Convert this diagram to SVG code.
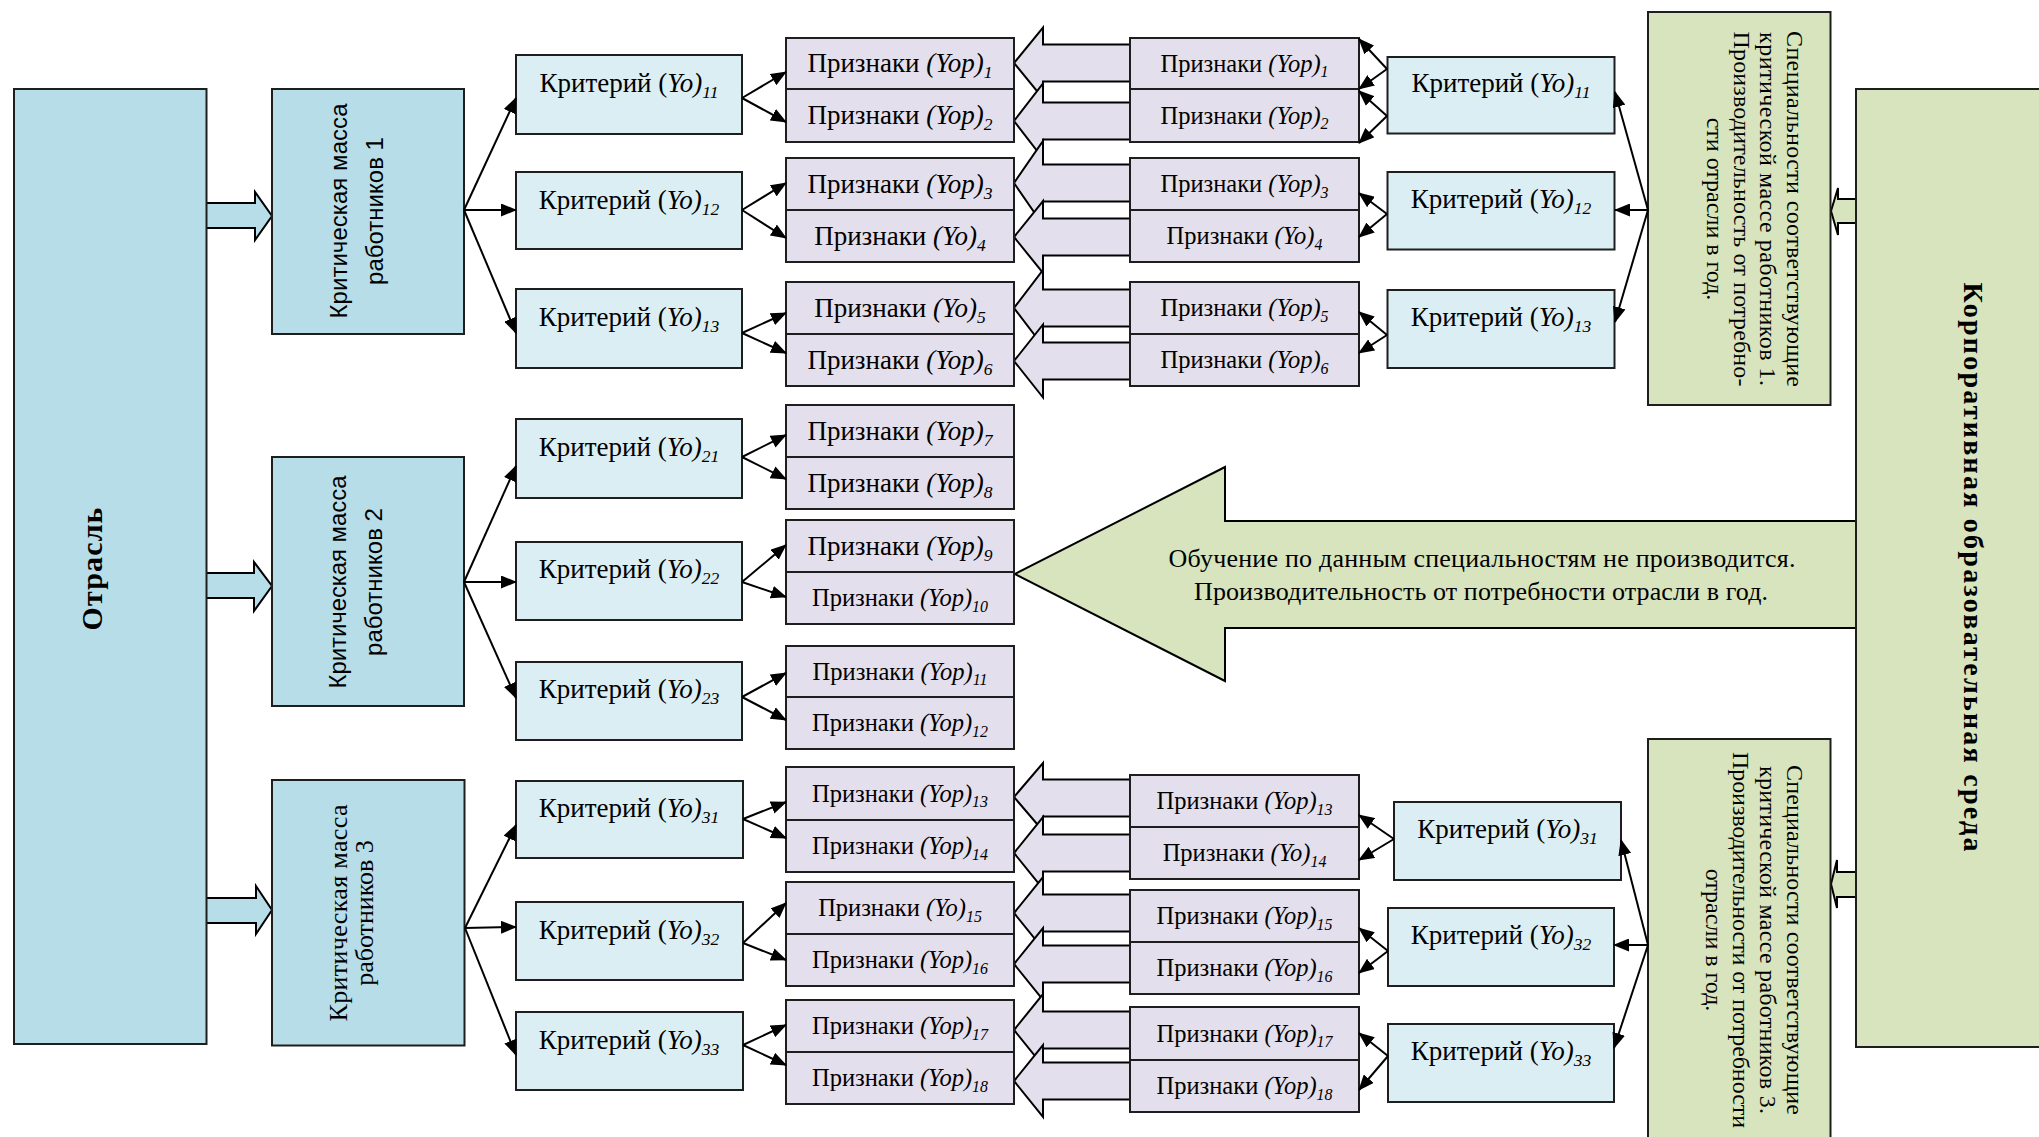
<svg xmlns="http://www.w3.org/2000/svg" width="2039" height="1137" viewBox="0 0 2039 1137">
<style>
.box{stroke:#1e1e1e;stroke-width:2}
.blue{fill:#b7dde8}
.crit{fill:#dbeef3}
.pr{fill:#e4dfec}
.green{fill:#d7e4bd}
.t{font-family:"Liberation Serif","Times New Roman",serif;fill:#000;text-anchor:middle}
.sans{font-family:"Liberation Sans",Arial,sans-serif;fill:#000;text-anchor:middle}
.s26{font-size:27px}
.s24{font-size:24.5px}
.b{font-weight:bold}
.i{font-style:italic}
.sub{font-size:0.65em}
.blk{stroke:#000;stroke-width:2}
.ln{stroke:#000;stroke-width:2;fill:none;marker-end:url(#ah)}
</style>
<defs>
<marker id="ah" markerUnits="userSpaceOnUse" markerWidth="16" markerHeight="13" refX="15" refY="6.5" orient="auto">
<path d="M0,0 L16,6.5 L0,13 Z" fill="#000"/>
</marker>
</defs>

<g id="connectors-block">
<path class="blk blue" d="M206,203 H255 V192 L272,216 L255,240 V228 H206"/>
<path class="blk blue" d="M206,573 H254 V562 L272,586 L254,611 V598 H206"/>
<path class="blk blue" d="M206,898 H256 V886 L272,910 L256,934 V923 H206"/>
<path class="blk green" d="M1856,199 H1838 V188 L1831,211 L1838,235 V223 H1856"/>
<path class="blk green" d="M1856,872 H1837 V860 L1831,884 L1837,908 V897 H1856"/>
<path class="blk green" d="M1857,521 H1225 V467 L1015,574 L1225,681 V628 H1857"/>
<path class="blk pr" d="M1130,44.5 H1043 V27.5 L1014,63 L1043,98.5 V81.5 H1130"/>
<path class="blk pr" d="M1130,102.5 H1043 V83.5 L1014,121 L1043,158.5 V139.5 H1130"/>
<path class="blk pr" d="M1130,164.5 H1043 V141 L1014,183 L1043,225 V201.5 H1130"/>
<path class="blk pr" d="M1130,218.5 H1043 V201 L1014,237 L1043,273 V255.5 H1130"/>
<path class="blk pr" d="M1130,289.5 H1043 V270 L1014,308 L1043,346 V326.5 H1130"/>
<path class="blk pr" d="M1130,342.5 H1043 V324.5 L1014,361 L1043,397.5 V379.5 H1130"/>
<path class="blk pr" d="M1130,779.5 H1043 V763 L1014,797 L1043,831 V816.5 H1130"/>
<path class="blk pr" d="M1130,834.5 H1043 V817 L1014,853 L1043,889 V871.5 H1130"/>
<path class="blk pr" d="M1130,894.5 H1043 V877 L1014,913 L1043,949 V931.5 H1130"/>
<path class="blk pr" d="M1130,945.5 H1043 V928 L1014,964 L1043,1000 V982.5 H1130"/>
<path class="blk pr" d="M1130,1011.5 H1043 V994 L1014,1030 L1043,1066 V1048.5 H1130"/>
<path class="blk pr" d="M1130,1062.5 H1043 V1045 L1014,1081 L1043,1117 V1099.5 H1130"/>
</g>

<g id="nodes">
<g id="otrasl"><rect class="box blue" x="14" y="89" width="192.5" height="955"/>
<text class="t b" font-size="30" transform="translate(102,569) rotate(-90)" textLength="123" lengthAdjust="spacing">Отрасль</text></g>

<g id="korp"><rect class="box green" x="1856" y="89" width="224" height="958"/>
<text class="t b" font-size="28" transform="translate(1964,567) rotate(90)" textLength="569" lengthAdjust="spacing">Корпоративная образовательная среда</text></g>

<g id="km1"><rect class="box blue" x="272" y="89" width="192" height="245"/>
<text class="sans" font-size="24" transform="translate(347,211) rotate(-90)"><tspan x="0" y="0" textLength="215" lengthAdjust="spacing">Критическая масса</tspan><tspan x="0" y="35.5">работников 1</tspan></text></g>
<g id="km2"><rect class="box blue" x="272" y="457" width="192" height="249"/>
<text class="sans" font-size="24" transform="translate(346,582) rotate(-90)"><tspan x="0" y="0" textLength="213" lengthAdjust="spacing">Критическая масса</tspan><tspan x="0" y="35.5">работников 2</tspan></text></g>
<g id="km3"><rect class="box blue" x="272" y="780" width="192.5" height="265.5"/>
<text class="t" font-size="26" transform="translate(347,913) rotate(-90)"><tspan x="0" y="0" textLength="217" lengthAdjust="spacing">Критическая масса</tspan><tspan x="0" y="26">работников 3</tspan></text></g>

<g id="spec1"><rect class="box green" x="1648" y="12" width="182.5" height="393"/>
<text class="t" font-size="24" transform="translate(1787,209) rotate(90)"><tspan x="0" y="0" textLength="356" lengthAdjust="spacing">Специальности соответствующие</tspan><tspan x="0" y="26.7" textLength="354" lengthAdjust="spacing">критической массе работников 1.</tspan><tspan x="0" y="53.3" textLength="355" lengthAdjust="spacing">Производительность от потребно-</tspan><tspan x="0" y="80">сти отрасли в год.</tspan></text></g>
<g id="spec3"><rect class="box green" x="1648" y="739" width="182.5" height="405"/>
<text class="t" font-size="24" transform="translate(1787,940) rotate(90)"><tspan x="0" y="0" textLength="350" lengthAdjust="spacing">Специальности соответствующие</tspan><tspan x="0" y="27" textLength="348" lengthAdjust="spacing">критической массе работников 3.</tspan><tspan x="0" y="54" textLength="376" lengthAdjust="spacing">Производительности от потребности</tspan><tspan x="0" y="81">отрасли в год.</tspan></text></g>

<g id="arrow-text"><text class="t" font-size="26"><tspan x="1482" y="566.5" textLength="627" lengthAdjust="spacing">Обучение по данным специальностям не производится.</tspan><tspan x="1481" y="600" textLength="574" lengthAdjust="spacing">Производительность от потребности отрасли в год.</tspan></text></g>

<g id="k11"><rect class="box crit" x="516" y="55" width="226" height="79"/><text class="t s26" x="629" y="91.5">Критерий (<tspan class="i">Yo)<tspan class="sub" dy="6">11</tspan></tspan></text></g>
<g id="k12"><rect class="box crit" x="516" y="172" width="226" height="77"/><text class="t s26" x="629" y="208.5">Критерий (<tspan class="i">Yo)<tspan class="sub" dy="6">12</tspan></tspan></text></g>
<g id="k13"><rect class="box crit" x="516" y="289" width="226" height="79"/><text class="t s26" x="629" y="325.5">Критерий (<tspan class="i">Yo)<tspan class="sub" dy="6">13</tspan></tspan></text></g>
<g id="k21"><rect class="box crit" x="516" y="419" width="226" height="79"/><text class="t s26" x="629" y="455.5">Критерий (<tspan class="i">Yo)<tspan class="sub" dy="6">21</tspan></tspan></text></g>
<g id="k22"><rect class="box crit" x="516" y="542" width="226" height="78"/><text class="t s26" x="629" y="578">Критерий (<tspan class="i">Yo)<tspan class="sub" dy="6">22</tspan></tspan></text></g>
<g id="k23"><rect class="box crit" x="516" y="662" width="226" height="78"/><text class="t s26" x="629" y="698">Критерий (<tspan class="i">Yo)<tspan class="sub" dy="6">23</tspan></tspan></text></g>
<g id="k31"><rect class="box crit" x="516" y="781" width="227" height="77"/><text class="t s26" x="629" y="817">Критерий (<tspan class="i">Yo)<tspan class="sub" dy="6">31</tspan></tspan></text></g>
<g id="k32"><rect class="box crit" x="516" y="902" width="227" height="78"/><text class="t s26" x="629" y="939">Критерий (<tspan class="i">Yo)<tspan class="sub" dy="6">32</tspan></tspan></text></g>
<g id="k33"><rect class="box crit" x="516" y="1012" width="227" height="78"/><text class="t s26" x="629" y="1049">Критерий (<tspan class="i">Yo)<tspan class="sub" dy="6">33</tspan></tspan></text></g>

<g id="rk11"><rect class="box crit" x="1387.5" y="57" width="227" height="76.5"/><text class="t s26" x="1501" y="92">Критерий (<tspan class="i">Yo)<tspan class="sub" dy="6">11</tspan></tspan></text></g>
<g id="rk12"><rect class="box crit" x="1387.5" y="172" width="227" height="77.5"/><text class="t s26" x="1501" y="208">Критерий (<tspan class="i">Yo)<tspan class="sub" dy="6">12</tspan></tspan></text></g>
<g id="rk13"><rect class="box crit" x="1387.5" y="290" width="227" height="78"/><text class="t s26" x="1501" y="326">Критерий (<tspan class="i">Yo)<tspan class="sub" dy="6">13</tspan></tspan></text></g>
<g id="rk31"><rect class="box crit" x="1394" y="802" width="227" height="78"/><text class="t s26" x="1507.5" y="838">Критерий (<tspan class="i">Yo)<tspan class="sub" dy="6">31</tspan></tspan></text></g>
<g id="rk32"><rect class="box crit" x="1388" y="908" width="226" height="78"/><text class="t s26" x="1501" y="944">Критерий (<tspan class="i">Yo)<tspan class="sub" dy="6">32</tspan></tspan></text></g>
<g id="rk33"><rect class="box crit" x="1388" y="1024" width="226" height="78"/><text class="t s26" x="1501" y="1060">Критерий (<tspan class="i">Yo)<tspan class="sub" dy="6">33</tspan></tspan></text></g>

<g id="p1"><rect class="box pr" x="786" y="38" width="228" height="51"/><text class="t s26" x="900" y="72">Признаки <tspan class="i">(Yop)<tspan class="sub" dy="6">1</tspan></tspan></text></g>
<g id="p2"><rect class="box pr" x="786" y="89" width="228" height="53"/><text class="t s26" x="900" y="124">Признаки <tspan class="i">(Yop)<tspan class="sub" dy="6">2</tspan></tspan></text></g>
<g id="p3"><rect class="box pr" x="786" y="158" width="228" height="52"/><text class="t s26" x="900" y="192.5">Признаки <tspan class="i">(Yop)<tspan class="sub" dy="6">3</tspan></tspan></text></g>
<g id="p4"><rect class="box pr" x="786" y="210" width="228" height="52"/><text class="t s26" x="900" y="244.5">Признаки <tspan class="i">(Yo)<tspan class="sub" dy="6">4</tspan></tspan></text></g>
<g id="p5"><rect class="box pr" x="786" y="282" width="228" height="52"/><text class="t s26" x="900" y="316.5">Признаки <tspan class="i">(Yo)<tspan class="sub" dy="6">5</tspan></tspan></text></g>
<g id="p6"><rect class="box pr" x="786" y="334" width="228" height="52"/><text class="t s26" x="900" y="368.5">Признаки <tspan class="i">(Yop)<tspan class="sub" dy="6">6</tspan></tspan></text></g>
<g id="p7"><rect class="box pr" x="786" y="405" width="228" height="52"/><text class="t s26" x="900" y="439.5">Признаки <tspan class="i">(Yop)<tspan class="sub" dy="6">7</tspan></tspan></text></g>
<g id="p8"><rect class="box pr" x="786" y="457" width="228" height="52"/><text class="t s26" x="900" y="491.5">Признаки <tspan class="i">(Yop)<tspan class="sub" dy="6">8</tspan></tspan></text></g>
<g id="p9"><rect class="box pr" x="786" y="520" width="228" height="52"/><text class="t s26" x="900" y="554.5">Признаки <tspan class="i">(Yop)<tspan class="sub" dy="6">9</tspan></tspan></text></g>
<g id="p10"><rect class="box pr" x="786" y="572" width="228" height="52"/><text class="t s24" x="900" y="606">Признаки <tspan class="i">(Yop)<tspan class="sub" dy="5.5">10</tspan></tspan></text></g>
<g id="p11"><rect class="box pr" x="786" y="646" width="228" height="51"/><text class="t s24" x="900" y="679.5">Признаки <tspan class="i">(Yop)<tspan class="sub" dy="5.5">11</tspan></tspan></text></g>
<g id="p12"><rect class="box pr" x="786" y="697" width="228" height="52"/><text class="t s24" x="900" y="731">Признаки <tspan class="i">(Yop)<tspan class="sub" dy="5.5">12</tspan></tspan></text></g>
<g id="p13"><rect class="box pr" x="786" y="767" width="228" height="53"/><text class="t s24" x="900" y="801.5">Признаки <tspan class="i">(Yop)<tspan class="sub" dy="5.5">13</tspan></tspan></text></g>
<g id="p14"><rect class="box pr" x="786" y="820" width="228" height="52"/><text class="t s24" x="900" y="854">Признаки <tspan class="i">(Yop)<tspan class="sub" dy="5.5">14</tspan></tspan></text></g>
<g id="p15"><rect class="box pr" x="786" y="882" width="228" height="52"/><text class="t s24" x="900" y="916">Признаки <tspan class="i">(Yo)<tspan class="sub" dy="5.5">15</tspan></tspan></text></g>
<g id="p16"><rect class="box pr" x="786" y="934" width="228" height="52"/><text class="t s24" x="900" y="968">Признаки <tspan class="i">(Yop)<tspan class="sub" dy="5.5">16</tspan></tspan></text></g>
<g id="p17"><rect class="box pr" x="786" y="1000" width="228" height="52"/><text class="t s24" x="900" y="1034">Признаки <tspan class="i">(Yop)<tspan class="sub" dy="5.5">17</tspan></tspan></text></g>
<g id="p18"><rect class="box pr" x="786" y="1052" width="228" height="52"/><text class="t s24" x="900" y="1086">Признаки <tspan class="i">(Yop)<tspan class="sub" dy="5.5">18</tspan></tspan></text></g>

<g id="rp1"><rect class="box pr" x="1130" y="38" width="229" height="51"/><text class="t s24" x="1244.5" y="71.5">Признаки <tspan class="i">(Yop)<tspan class="sub" dy="5.5">1</tspan></tspan></text></g>
<g id="rp2"><rect class="box pr" x="1130" y="89" width="229" height="53"/><text class="t s24" x="1244.5" y="123.5">Признаки <tspan class="i">(Yop)<tspan class="sub" dy="5.5">2</tspan></tspan></text></g>
<g id="rp3"><rect class="box pr" x="1130" y="158" width="229" height="52"/><text class="t s24" x="1244.5" y="192">Признаки <tspan class="i">(Yop)<tspan class="sub" dy="5.5">3</tspan></tspan></text></g>
<g id="rp4"><rect class="box pr" x="1130" y="210" width="229" height="52"/><text class="t s24" x="1244.5" y="244">Признаки <tspan class="i">(Yo)<tspan class="sub" dy="5.5">4</tspan></tspan></text></g>
<g id="rp5"><rect class="box pr" x="1130" y="282" width="229" height="52"/><text class="t s24" x="1244.5" y="316">Признаки <tspan class="i">(Yop)<tspan class="sub" dy="5.5">5</tspan></tspan></text></g>
<g id="rp6"><rect class="box pr" x="1130" y="334" width="229" height="52"/><text class="t s24" x="1244.5" y="368">Признаки <tspan class="i">(Yop)<tspan class="sub" dy="5.5">6</tspan></tspan></text></g>
<g id="rp13"><rect class="box pr" x="1130" y="775" width="229" height="52"/><text class="t s24" x="1244.5" y="809">Признаки <tspan class="i">(Yop)<tspan class="sub" dy="5.5">13</tspan></tspan></text></g>
<g id="rp14"><rect class="box pr" x="1130" y="827" width="229" height="52"/><text class="t s24" x="1244.5" y="861">Признаки <tspan class="i">(Yo)<tspan class="sub" dy="5.5">14</tspan></tspan></text></g>
<g id="rp15"><rect class="box pr" x="1130" y="890" width="229" height="52"/><text class="t s24" x="1244.5" y="924">Признаки <tspan class="i">(Yop)<tspan class="sub" dy="5.5">15</tspan></tspan></text></g>
<g id="rp16"><rect class="box pr" x="1130" y="942" width="229" height="52"/><text class="t s24" x="1244.5" y="976">Признаки <tspan class="i">(Yop)<tspan class="sub" dy="5.5">16</tspan></tspan></text></g>
<g id="rp17"><rect class="box pr" x="1130" y="1007" width="229" height="53"/><text class="t s24" x="1244.5" y="1041.5">Признаки <tspan class="i">(Yop)<tspan class="sub" dy="5.5">17</tspan></tspan></text></g>
<g id="rp18"><rect class="box pr" x="1130" y="1060" width="229" height="52"/><text class="t s24" x="1244.5" y="1094">Признаки <tspan class="i">(Yop)<tspan class="sub" dy="5.5">18</tspan></tspan></text></g>
</g>

<g id="connectors">
<path class="ln" d="M464,210 L516,98"/>
<path class="ln" d="M464,210 L516,210"/>
<path class="ln" d="M464,210 L516,333"/>
<path class="ln" d="M464,582 L516,466"/>
<path class="ln" d="M464,582 L516,582"/>
<path class="ln" d="M464,582 L516,698"/>
<path class="ln" d="M465,928 L516,825"/>
<path class="ln" d="M465,928 L516,927"/>
<path class="ln" d="M465,928 L516,1055"/>
<path class="ln" d="M742,98 L786,72"/>
<path class="ln" d="M742,98 L786,122"/>
<path class="ln" d="M742,210 L786,183"/>
<path class="ln" d="M742,210 L786,238"/>
<path class="ln" d="M742,333 L786,313"/>
<path class="ln" d="M742,333 L786,353"/>
<path class="ln" d="M742,457 L786,435"/>
<path class="ln" d="M742,457 L786,479"/>
<path class="ln" d="M742,582 L786,545"/>
<path class="ln" d="M742,582 L786,597"/>
<path class="ln" d="M742,697 L786,673"/>
<path class="ln" d="M742,697 L786,720"/>
<path class="ln" d="M743,819 L786,802"/>
<path class="ln" d="M743,819 L786,838"/>
<path class="ln" d="M743,943 L786,903"/>
<path class="ln" d="M743,943 L786,960"/>
<path class="ln" d="M743,1045 L786,1025"/>
<path class="ln" d="M743,1045 L786,1065"/>
<path class="ln" d="M1387,69 L1359,39"/>
<path class="ln" d="M1387,69 L1359,89"/>
<path class="ln" d="M1387,116 L1359,91"/>
<path class="ln" d="M1387,116 L1359,143"/>
<path class="ln" d="M1387,214 L1359,193"/>
<path class="ln" d="M1387,214 L1359,237"/>
<path class="ln" d="M1387,335 L1359,312"/>
<path class="ln" d="M1387,335 L1359,353"/>
<path class="ln" d="M1394,839 L1359,815"/>
<path class="ln" d="M1394,839 L1359,860"/>
<path class="ln" d="M1388,951 L1359,928"/>
<path class="ln" d="M1388,951 L1359,973"/>
<path class="ln" d="M1388,1056 L1359,1033"/>
<path class="ln" d="M1388,1056 L1359,1090"/>
<path class="ln" d="M1648,210 L1615,92"/>
<path class="ln" d="M1648,210 L1615,210"/>
<path class="ln" d="M1648,210 L1615,322"/>
<path class="ln" d="M1648,945 L1621,840"/>
<path class="ln" d="M1648,945 L1614,945"/>
<path class="ln" d="M1648,945 L1614,1048"/>
</g>
</svg>
